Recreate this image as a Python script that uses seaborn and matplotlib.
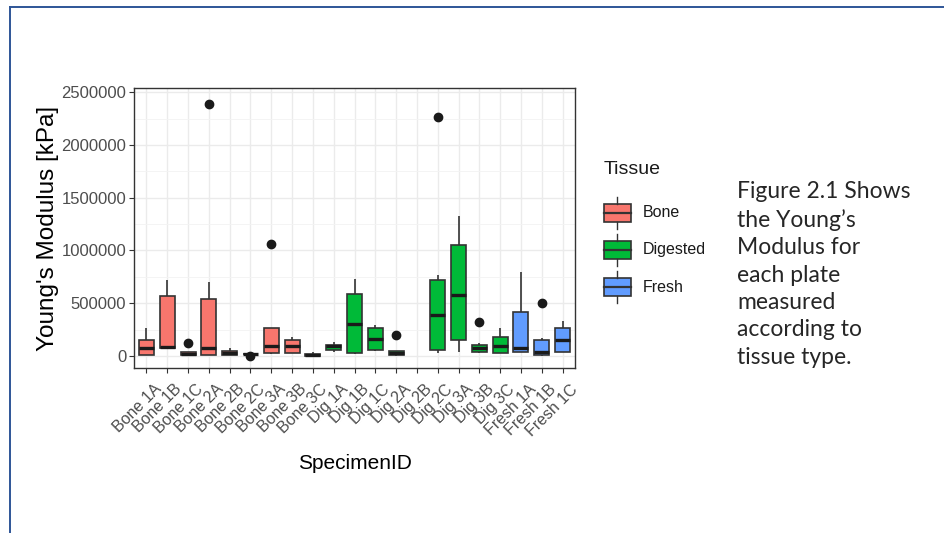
import matplotlib
matplotlib.use("Agg")
import matplotlib.pyplot as plt
from matplotlib.lines import Line2D
from matplotlib.patches import Rectangle, Patch
from matplotlib.legend_handler import HandlerBase
import matplotlib.transforms as mtransforms
import seaborn as sns
import pandas as pd

# ---------------- data (kPa) ----------------
bone_ids = ["Bone 1A", "Bone 1B", "Bone 1C", "Bone 2A", "Bone 2B", "Bone 2C",
            "Bone 3A", "Bone 3B", "Bone 3C"]
bone_obs = [
    [5e3, 8e3, 70e3, 150e3, 262e3],
    [63e3, 70e3, 85e3, 570e3, 715e3],
    [3e3, 5e3, 6e3, 12e3, 19e3, 25e3, 32e3, 32e3, 120e3],
    [4e3, 5e3, 6e3, 40e3, 70e3, 300e3, 538e3, 700e3, 2392e3],
    [4e3, 6e3, 28e3, 47e3, 79e3],
    [500, 12e3, 14e3, 16e3, 18e3, 20e3, 22e3, 26e3, 30e3],
    [19e3, 22e3, 25e3, 60e3, 98e3, 180e3, 262e3, 262e3, 1063e3],
    [25e3, 25e3, 98e3, 152e3, 183e3],
    [2e3, 3e3, 13e3, 19e3, 38e3],
]
dig_ids = ["Dig 1A", "Dig 1B", "Dig 1C", "Dig 2A", "Dig 2B", "Dig 2C",
           "Dig 3A", "Dig 3B", "Dig 3C"]
dig_obs = [
    [41e3, 57e3, 98e3, 104e3, 136e3],
    [22e3, 25e3, 300e3, 585e3, 728e3],
    [50e3, 57e3, 161e3, 262e3, 294e3],
    [3e3, 5e3, 6e3, 15e3, 25e3, 35e3, 47e3, 47e3, 196e3],
    [],
    [25e3, 40e3, 57e3, 200e3, 389e3, 600e3, 721e3, 769e3, 2269e3],
    [38e3, 152e3, 579e3, 1050e3, 1329e3],
    [30e3, 35e3, 38e3, 60e3, 73e3, 90e3, 104e3, 120e3, 320e3],
    [25e3, 25e3, 98e3, 183e3, 262e3],
]
fresh_ids = ["Fresh 1A", "Fresh 1B", "Fresh 1C"]
fresh_obs = [
    [41e3, 41e3, 73e3, 414e3, 791e3],
    [3e3, 5e3, 6e3, 20e3, 32e3, 90e3, 152e3, 168e3, 506e3],
    [32e3, 41e3, 146e3, 262e3, 326e3],
]
tissues = ["Bone", "Digested", "Fresh"]
tissue_colors = ["#F8766D", "#00BA38", "#619CFF"]
y_ticks = [0, 500000, 1000000, 1500000, 2000000, 2500000]
y_minor = [250000, 750000, 1250000, 1750000, 2250000]
caption = "Figure 2.1 Shows\nthe Young\u2019s\nModulus for\neach plate\nmeasured\naccording to\ntissue type."

# ---------------- table ----------------
rows = []
for tissue, ids, obs in zip(tissues, [bone_ids, dig_ids, fresh_ids],
                            [bone_obs, dig_obs, fresh_obs]):
    for sid, vals in zip(ids, obs):
        for v in vals:
            rows.append({"SpecimenID": sid, "Tissue": tissue, "Modulus": v})
df = pd.DataFrame(rows)
order = bone_ids + dig_ids + fresh_ids
palette = dict(zip(tissues, tissue_colors))

plt.rcParams["font.family"] = ["Liberation Sans", "DejaVu Sans"]

W, H = 944, 533
PT = 72 / 100  # points per pixel
fig = plt.figure(figsize=(W / 100, H / 100), dpi=100)
fig.patch.set_facecolor("white")

ax = fig.add_axes([134 / W, 1 - 368 / H, 441 / W, 280 / H])

sns.boxplot(data=df, x="SpecimenID", y="Modulus", hue="Tissue", order=order,
            hue_order=tissues, palette=palette, dodge=False, width=0.72,
            linewidth=1.2, linecolor="#333333", saturation=1, legend=False,
            fliersize=6, showcaps=False,
            flierprops=dict(marker="o", markerfacecolor="#1a1a1a",
                            markeredgecolor="#1a1a1a"),
            medianprops=dict(linewidth=2.4, color="#1a1a1a"),
            ax=ax)

ax.set_xlim(-0.6, len(order) - 0.4)
ax.set_ylim(-115000, 2540000)
ax.set_facecolor("white")
ax.set_yticks(y_ticks)
ax.set_yticklabels([str(t) for t in y_ticks])
ax.set_yticks(y_minor, minor=True)
ax.grid(which="major", color="#EBEBEB", linewidth=1.0)
ax.grid(which="minor", axis="y", color="#F3F3F3", linewidth=0.6)
ax.set_axisbelow(True)
for s in ax.spines.values():
    s.set_color("#333333")
    s.set_linewidth(1.0)

ax.tick_params(axis="both", which="major", length=3.5, width=0.8,
               color="#333333", labelcolor="#4D4D4D", labelsize=12, pad=2)
ax.tick_params(axis="x", labelsize=11.5)
ax.tick_params(axis="y", which="minor", length=0)
ax.set_xticks(range(len(order)))
ax.set_xticklabels(order, rotation=45, ha="right", va="top",
                   rotation_mode="anchor")
offset = mtransforms.ScaledTranslation(7 / 100, -6 / 100, fig.dpi_scale_trans)
for lab in ax.get_xticklabels():
    lab.set_transform(lab.get_transform() + offset)

ax.set_xlabel("SpecimenID", fontsize=15, color="black", labelpad=11)
ax.set_ylabel("Young's Modulus [kPa]", fontsize=17.5, color="black",
              labelpad=1.5)


class BoxKey(HandlerBase):
    def create_artists(self, legend, orig_handle, xdescent, ydescent,
                       width, height, fontsize, trans):
        fc = orig_handle.get_facecolor()
        bw, bh, wl = 27 * PT, 18 * PT, 7 * PT
        cx = -xdescent + width / 2
        cy = -ydescent + height / 2
        rect = Rectangle((cx - bw / 2, cy - bh / 2), bw, bh, facecolor=fc,
                         edgecolor="#333333", linewidth=1.2, transform=trans)
        med = Line2D([cx - bw / 2, cx + bw / 2], [cy, cy], color="#333333",
                     linewidth=1.6, transform=trans)
        w1 = Line2D([cx, cx], [cy + bh / 2, cy + bh / 2 + wl], color="#333333",
                    linewidth=1.0, transform=trans)
        w2 = Line2D([cx, cx], [cy - bh / 2, cy - bh / 2 - wl], color="#333333",
                    linewidth=1.0, transform=trans)
        return [rect, med, w1, w2]


handles = [Patch(facecolor=c) for c in tissue_colors]
leg = ax.legend(handles, tissues, handler_map={Patch: BoxKey()},
                loc="upper left",
                bbox_to_anchor=(601.5 / W, 1 - 195.5 / H),
                bbox_transform=fig.transFigure, frameon=False,
                fontsize=11.5, handlelength=2.0,
                handleheight=2.9, labelspacing=0.2, handletextpad=0.6,
                borderaxespad=0, borderpad=0)
for t in leg.get_texts():
    t.set_color("#1a1a1a")
fig.text(604 / W, 1 - 170 / H, "Tissue", ha="left", va="center",
         fontsize=14, color="#1a1a1a")

fig.text(737 / W, 1 - 181 / H, caption, ha="left", va="top",
         fontsize=16.5, family=["Lato", "DejaVu Sans"], color="#262626",
         linespacing=1.38)

# slide frame
fig.add_artist(Line2D([10 / W, 10 / W], [0, 1 - 7 / H], color="#2E5597",
                      linewidth=1.4, transform=fig.transFigure))
fig.add_artist(Line2D([10 / W, 1], [1 - 7 / H, 1 - 7 / H], color="#2E5597",
                      linewidth=1.4, transform=fig.transFigure))

fig.savefig("out.png", dpi=100, facecolor="white")
